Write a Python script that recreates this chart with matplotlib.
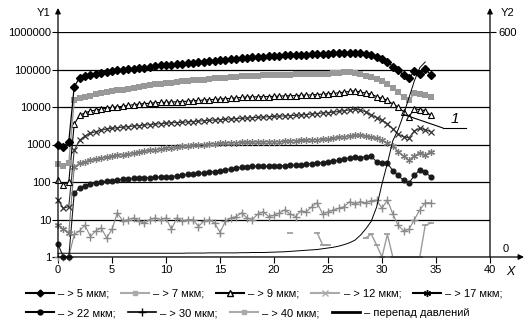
import numpy as np
import matplotlib
matplotlib.use('Agg')
import matplotlib.pyplot as plt
from matplotlib.lines import Line2D
from matplotlib.ticker import NullLocator

plt.rcParams['font.family'] = ['Liberation Sans', 'DejaVu Sans']

N = np.nan
# x positions (time), step 0.5
x = np.arange(0, 34.75, 0.5)

s5 = [1000, 850, 1200, 35000, 60000, 66000, 72000, 76000, 80000, 85000,
      90000, 95000, 100000, 102000, 105000, 108000, 112000, 118000, 122000, 128000,
      132000, 135000, 138000, 142000, 148000, 150000, 155000, 160000, 165000, 170000,
      178000, 182000, 188000, 192000, 198000, 205000, 210000, 215000, 220000, 225000,
      230000, 232000, 238000, 240000, 245000, 248000, 250000, 255000, 258000, 262000,
      265000, 268000, 272000, 275000, 280000, 278000, 270000, 258000, 240000, 215000,
      185000, 160000, 120000, 100000, 70000, 58000, 90000, 78000, 105000, 72000]

s7 = [300, 260, 320, 15000, 17000, 19000, 20000, 22000, 23000, 25000,
      26000, 28000, 29000, 31000, 32000, 34000, 36000, 38000, 40000, 42000,
      44000, 45000, 47000, 48000, 50000, 51000, 52000, 54000, 56000, 58000,
      60000, 61000, 63000, 64000, 66000, 67000, 68000, 69000, 70000, 70000,
      71000, 72000, 72000, 73000, 74000, 74000, 75000, 76000, 77000, 78000,
      78000, 80000, 82000, 84000, 85000, 82000, 76000, 68000, 62000, 55000,
      48000, 40000, 33000, 25000, 18000, 15000, 23000, 22000, 21000, 18000]

s9 = [110, 85, 100, 3500, 6000, 7000, 7800, 8300, 8800, 9300,
      9800, 10000, 10500, 11000, 11500, 12000, 12300, 12600, 13000, 13200,
      13400, 13600, 13700, 14000, 14300, 14700, 15000, 15300, 15600, 16000,
      16300, 16700, 17000, 17500, 18000, 18500, 18500, 18700, 18800, 19000,
      19200, 19500, 19800, 20000, 20200, 20500, 20800, 21000, 21500, 22000,
      22500, 23000, 24000, 25000, 26000, 27000, 25000, 23500, 22000, 19000,
      17000, 15000, 12000, 10000, 7500, 5500, 9000, 8500, 8000, 6000]

s12 = [33, 20, 22, 700, 1300, 1700, 2000, 2200, 2400, 2600,
       2700, 2800, 2900, 3000, 3100, 3200, 3300, 3400, 3500, 3600,
       3700, 3800, 3850, 3900, 4000, 4100, 4200, 4300, 4400, 4500,
       4600, 4700, 4800, 4900, 5000, 5100, 5200, 5300, 5400, 5500,
       5600, 5700, 5800, 5900, 6000, 6100, 6300, 6500, 6700, 6900,
       7100, 7300, 7600, 8000, 8300, 8800, 8300, 7400, 6200, 5200,
       4400, 3600, 2600, 1900, 1600, 1500, 2300, 2700, 2500, 2200]

s17 = [7, 5.5, 4.4, 250, 320, 350, 380, 410, 440, 460,
       480, 510, 540, 570, 600, 630, 660, 700, 730, 770,
       800, 830, 860, 890, 920, 950, 980, 1000, 1030, 1050,
       1070, 1090, 1100, 1120, 1140, 1150, 1160, 1170, 1170, 1180,
       1190, 1200, 1220, 1240, 1260, 1280, 1300, 1320, 1350, 1380,
       1420, 1480, 1550, 1620, 1700, 1800, 1750, 1650, 1550, 1450,
       1300, 1100, 900, 650, 480, 380, 500, 600, 520, 650]

s22 = [2.2, 1.0, 1.0, 50, 70, 80, 90, 95, 100, 105,
       108, 112, 118, 120, 125, 128, 130, 130, 133, 135,
       138, 140, 145, 150, 160, 165, 170, 175, 185, 190,
       200, 210, 225, 235, 245, 255, 260, 265, 270, 260,
       265, 270, 275, 280, 285, 290, 300, 310, 320, 330,
       340, 360, 380, 410, 440, 460, 450, 470, 480, 350,
       330, 320, 200, 150, 110, 95, 150, 210, 180, 140]

s30 = [1, 1, 1, 4, 5, 7, 3.5, 5, 6, 3.2,
       5.5, 15, 9, 10, 11, 9, 8, 10, 11, 10,
       11, 5.5, 11, 9, 10, 10, 6.5, 9, 10, 8,
       4.5, 9, 11, 12, 15, 11, 10, 14, 16, 12,
       13, 15, 18, 14, 12, 17, 16, 22, 28, 14,
       16, 18, 20, 22, 30, 26, 30, 28, 32, 33,
       20, 33, 14, 7, 5, 5.5, 10, 18, 28, 28]

s40 = [N, N, N, N, N, N, N, N, N, N,
       N, N, N, N, N, N, N, N, N, N,
       N, N, N, N, N, N, N, N, N, N,
       N, N, N, N, N, N, N, N, N, N,
       N, N, N, 4.4, N, N, N, N, 4.4, 2.1,
       2.1, N, N, N, N, N, N, 3.2, 4.1, 2.1,
       1.0, 4.0, 1.0, 1.0, 1.0, 1.0, 1.0, 1.0, 7.0, 8.0]

# pressure drop (right axis Y2)
dp = [10, 10, 10, 10, 10, 10, 10, 10, 10, 10,
      10, 10, 10, 10, 10, 10, 10, 10, 10, 10,
      10, 10, 10, 10, 10.5, 10.5, 10.5, 10.5, 11, 11,
      11, 11, 11, 11, 11.5, 11.5, 12, 12, 12, 12.5,
      13, 13.5, 14, 15, 16, 17, 18, 19, 20, 22,
      24, 26, 29, 33, 38, 45, 58, 75, 95, 133,
      195, 250, 310, 340, 380, 425, 470, 505, 520, N]

labels = ['– > 5 мкм;', '– > 7 мкм;', '– > 9 мкм;', '– > 12 мкм;', '– > 17 мкм;',
          '– > 22 мкм;', '– > 30 мкм;', '– > 40 мкм;', '– перепад давлений']
yticks = [1, 10, 100, 1000, 10000, 100000, 1000000]
ytick_labels = ['1', '10', '100', '1000', '10000', '100000', '1000000']
xticks = [0, 5, 10, 15, 20, 25, 30, 35, 40]

W, H = 529, 325
fig = plt.figure(figsize=(W / 100, H / 100), dpi=100)


def fx(px):
    return px / W


def fy(py):
    return 1 - py / H


X0, X1, YB, YT = 58, 490, 257, 32
ax = fig.add_axes([fx(X0), fy(YB), (X1 - X0) / W, (YB - YT) / H])
ax.set_yscale('log')
ax.set_xlim(0, 40)
ax.set_ylim(1, 1e6)
for s in ax.spines.values():
    s.set_visible(False)
ax.set_yticks(yticks)
ax.set_yticklabels(ytick_labels)
ax.yaxis.set_minor_locator(NullLocator())
ax.set_xticks(xticks)
ax.set_xticklabels([str(t) for t in xticks])
ax.tick_params(axis='y', direction='out', length=4, width=0.8, labelsize=8, pad=1)
ax.tick_params(axis='x', direction='out', length=4, width=0.8, labelsize=8, pad=2)
ax.grid(axis='y', color='k', lw=0.9)
ax.set_axisbelow(True)

ax2 = ax.twinx()
ax2.set_ylim(0, 600)
for s in ax2.spines.values():
    s.set_visible(False)
ax2.set_yticks([600])
ax2.set_yticklabels([''])
ax2.tick_params(axis='y', direction='out', length=4, width=0.8)

kw = dict(clip_on=False)
ax.plot(x, s40, color='#9a9a9a', lw=1.0, marker='_', ms=5, mew=1.2, **kw)
ax.plot(x, s30, color='#8a8a8a', lw=0.8, marker='+', ms=6, mew=1.0, **kw)
ax.plot(x, s22, color='#1a1a1a', lw=0.8, marker='o', ms=3.4, **kw)
ax.plot(x, s17, color='#7a7a7a', lw=0.8, marker=(6, 2, 0), ms=5, mew=0.9, **kw)
ax.plot(x, s12, color='#333333', lw=0.8, marker='x', ms=4, mew=0.9, **kw)
ax.plot(x, s9, color='k', lw=0.8, marker='^', ms=4.5, mfc='white', mew=0.8, **kw)
ax.plot(x, s7, color='#999999', lw=1.0, marker='s', ms=4, mew=0, **kw)
ax.plot(x, s5, color='k', lw=0.9, marker='D', ms=3.8, **kw)

ax2.plot(x, dp, color='k', lw=0.7, clip_on=False)

# annotation "1" for the pressure curve
ax2.annotate('', xy=(x[64], dp[64]), xycoords='data',
             xytext=(fx(443), fy(128)), textcoords='figure fraction',
             arrowprops=dict(arrowstyle='-', lw=0.8, color='k', shrinkA=0, shrinkB=0),
             annotation_clip=False)
fig.add_artist(Line2D([fx(443), fx(466)], [fy(128), fy(128)], transform=fig.transFigure,
                      color='k', lw=0.8))
fig.text(fx(455), fy(119), '1', fontsize=11, style='italic', ha='center', va='center')

# axes with arrows
ap = dict(arrowstyle='-|>', color='k', lw=0.9, mutation_scale=8, shrinkA=0, shrinkB=0)
for (xa, ya, xb, yb) in [(X0, YB, X0, 8), (X1, YB, X1, 8), (X0, YB, 524, YB)]:
    fig.add_artist(matplotlib.patches.FancyArrowPatch((fx(xa), fy(ya)), (fx(xb), fy(yb)),
                                                      transform=fig.transFigure, **ap))

fig.text(fx(44), fy(13), 'Y1', ha='center', va='center', fontsize=8)
fig.text(fx(508), fy(13), 'Y2', ha='center', va='center', fontsize=8)
fig.text(fx(498), fy(33), '600', ha='left', va='center', fontsize=8)
fig.text(fx(506), fy(249), '0', ha='center', va='center', fontsize=8)
fig.text(fx(510), fy(272), 'X', ha='center', va='center', fontsize=9, style='italic')

# legend proxies
hs = [Line2D([], [], color='k', marker='D', ms=3.5, lw=1.5),
      Line2D([], [], color='#aaaaaa', marker='s', ms=3.5, lw=1.5),
      Line2D([], [], color='k', marker='^', ms=4.5, mfc='white', lw=1.5),
      Line2D([], [], color='#aaaaaa', marker='x', ms=4, lw=1.5),
      Line2D([], [], color='k', marker=(6, 2, 0), ms=5, lw=1.5),
      Line2D([], [], color='k', marker='o', ms=3.5, lw=1.5),
      Line2D([], [], color='k', marker='+', ms=6, lw=1.2),
      Line2D([], [], color='#aaaaaa', marker='s', ms=3, lw=1.5),
      Line2D([], [], color='k', lw=2.0)]

lk = dict(frameon=False, fontsize=8, handlelength=2.5, handletextpad=0.4,
          borderaxespad=0, borderpad=0, loc='center left')
leg1 = fig.legend(hs[:5], labels[:5], ncol=5, columnspacing=1.05,
                  bbox_to_anchor=(fx(26), fy(294)), **lk)
leg2 = fig.legend(hs[5:], labels[5:], ncol=4, columnspacing=1.1,
                  bbox_to_anchor=(fx(26), fy(313)), **lk)

fig.savefig('out.png', dpi=100)
